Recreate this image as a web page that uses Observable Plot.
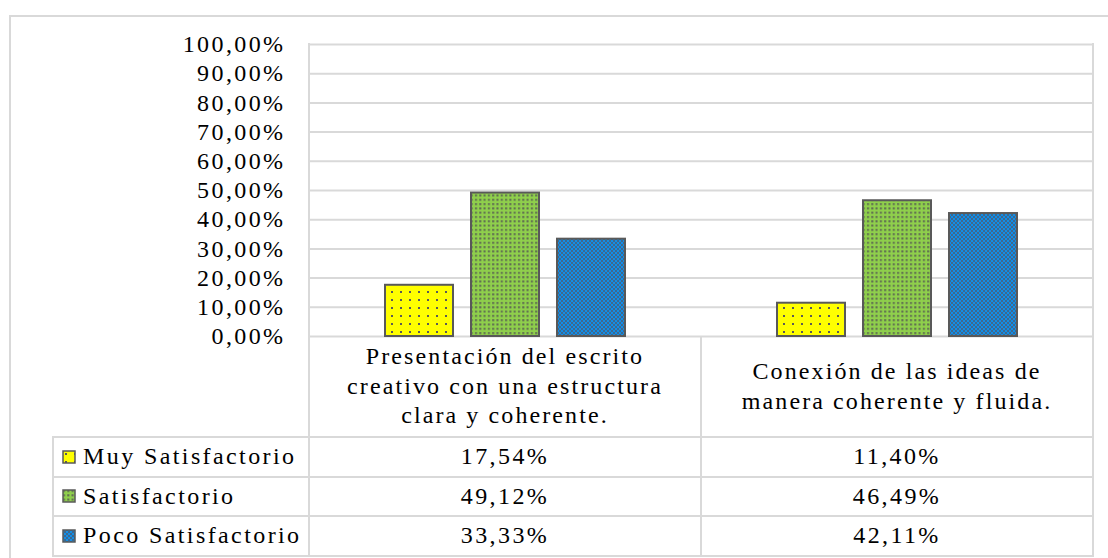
<!DOCTYPE html>
<html>
<head>
<meta charset="utf-8">
<script src="https://cdn.jsdelivr.net/npm/d3@7"></script>
<script src="https://cdn.jsdelivr.net/npm/@observablehq/plot@0.6"></script>
<style>
  body { margin: 0; background: #fff; }
  #wrap { position: relative; width: 1108px; height: 558px; overflow: hidden; background: #fff;
          font-family: "Liberation Serif", "Times New Roman", serif; color: #000; }
  #wrap svg text { letter-spacing: 2.4px; }
  .outer { position: absolute; left: 9px; top: 15px; width: 1200px; height: 700px; border: 2px solid #d9d9d9; box-sizing: border-box; }
  .plotbox { position: absolute; left: 0; top: 0; }
  .ln { position: absolute; background: #d9d9d9; }
  .cell { position: absolute; display: flex; align-items: center; justify-content: center; text-align: center;
          font-size: 24px; letter-spacing: 2.4px; white-space: nowrap; }
  .hdr { line-height: 29.5px; flex-direction: column; letter-spacing: 2.1px; }
  .leg { justify-content: flex-start; }
  .leg svg { margin-left: 9px; margin-right: 7px; flex: none; }
</style>
</head>
<body>
<svg width="0" height="0" style="position:absolute">
  <defs>
    <pattern id="pY" width="9" height="8" patternUnits="userSpaceOnUse">
      <rect width="9" height="8" fill="#ffff00"/>
      <rect x="3" y="3" width="2" height="2" fill="#595959"/>
    </pattern>
    <pattern id="pG" width="4.3" height="4.3" patternUnits="userSpaceOnUse">
      <rect width="4.3" height="4.3" fill="#8fcf4c"/>
      <rect x="1" y="1" width="2" height="2" fill="#5e6a52"/>
    </pattern>
    <pattern id="pB" width="4" height="4" patternUnits="userSpaceOnUse">
      <rect width="4" height="4" fill="#128ee6"/>
      <rect width="2" height="2" fill="#3c6890"/>
      <rect x="2" y="2" width="2" height="2" fill="#3c6890"/>
    </pattern>
  </defs>
</svg>
<div id="wrap"></div>
<script>
// ---- data ----
const categories = [
  "Presentación del escrito creativo con una estructura clara y coherente.",
  "Conexión de las ideas de manera coherente y fluida."
];
const categoryLines = [
  ["Presentación del escrito", "creativo con una estructura", "clara y coherente."],
  ["Conexión de las ideas de", "manera coherente y fluida."]
];
const series = ["Muy Satisfactorio", "Satisfactorio", "Poco Satisfactorio"];
const muySatisfactorio = [0.1754, 0.1140];
const satisfactorio = [0.4912, 0.4649];
const pocoSatisfactorio = [0.3333, 0.4211];
const seriesValues = [muySatisfactorio, satisfactorio, pocoSatisfactorio];
const seriesFills = ["url(#pY)", "url(#pG)", "url(#pB)"];
const yTicks = [0, 0.1, 0.2, 0.3, 0.4, 0.5, 0.6, 0.7, 0.8, 0.9, 1.0];

(function () {
const fmt = d => (d * 100).toFixed(2).replace(".", ",") + "%";

const rows = categories.flatMap((c, i) =>
  series.map((s, j) => ({category: c, series: s, value: seriesValues[j][i]})));

const W = 1108, mL = 308, mR = 15, mT = 44, H = 350, mB = 14;

const plot = Plot.plot({
  width: W, height: H,
  marginLeft: mL, marginRight: mR, marginTop: mT, marginBottom: mB,
  style: {fontFamily: "'Liberation Serif', 'Times New Roman', serif", fontSize: "24px", color: "#000", background: "transparent", overflow: "visible"},
  facet: {data: rows, x: "category"},
  fx: {domain: categories, padding: 0, axis: null, label: null},
  x: {domain: series, axis: null, paddingInner: 0.207, paddingOuter: 0.86},
  y: {domain: [0, 1], ticks: yTicks, tickFormat: fmt, tickSize: 0, tickPadding: 24, label: null},
  color: {domain: series, range: seriesFills},
  marks: [
    Plot.ruleY(yTicks, {stroke: "#d9d9d9", strokeWidth: 2, strokeOpacity: 1}),
    Plot.barY(rows, {x: "series", y: "value", fill: "series", stroke: "#595959", strokeWidth: 2})
  ]
});

const wrap = document.getElementById("wrap");
const outer = document.createElement("div");
outer.className = "outer";
wrap.appendChild(outer);
const pb = document.createElement("div");
pb.className = "plotbox";
pb.appendChild(plot);
wrap.appendChild(pb);

// table geometry from the scales
const fxs = plot.scale("fx");
const ys = plot.scale("y");
const colX = categories.map(c => fxs.apply(c));
const bw = fxs.bandwidth;
const xLeft = colX[0], xRight = colX[colX.length - 1] + bw;
const yTop = ys.apply(1), yBase = ys.apply(0);
const legLeft = 53;
const hdrH = 101, rowH = 39.5;
const tableBottom = yBase + hdrH + series.length * rowH;

function line(x, y, w, h) {
  const d = document.createElement("div");
  d.className = "ln";
  Object.assign(d.style, {left: x + "px", top: y + "px", width: w + "px", height: h + "px"});
  wrap.appendChild(d);
}
function cell(x, y, w, h, cls) {
  const d = document.createElement("div");
  d.className = "cell " + (cls || "");
  Object.assign(d.style, {left: x + "px", top: y + "px", width: w + "px", height: h + "px"});
  wrap.appendChild(d);
  return d;
}

categories.forEach((c, i) => {
  const d = cell(colX[i], yBase, bw, hdrH, "hdr");
  categoryLines[i].forEach(t => {
    const s = document.createElement("div");
    s.textContent = t;
    d.appendChild(s);
  });
});
series.forEach((s, j) => {
  const y0 = yBase + hdrH + j * rowH;
  const lg = cell(legLeft, y0, xLeft - legLeft, rowH, "leg");
  const sw = document.createElementNS("http://www.w3.org/2000/svg", "svg");
  sw.setAttribute("width", 14); sw.setAttribute("height", 14);
  sw.innerHTML = `<rect x="1" y="1" width="12" height="12" fill="${seriesFills[j]}" stroke="#595959" stroke-width="1.5"/>`;
  lg.appendChild(sw);
  const tx = document.createElement("span");
  tx.textContent = s;
  lg.appendChild(tx);
  categories.forEach((c, i) => {
    const d = cell(colX[i], y0, bw, rowH);
    d.textContent = fmt(seriesValues[j][i]);
  });
});

const lw = 2;
line(xLeft - 1, yTop - 1, lw, tableBottom - yTop + 2);
line(xRight - 1, yTop - 1, lw, tableBottom - yTop + 2);
for (let i = 1; i < colX.length; i++) line(colX[i] - 1, yBase, lw, tableBottom - yBase + 1);
for (let j = 0; j <= series.length; j++) {
  const y = yBase + hdrH + j * rowH;
  line(legLeft - 1, y - 1, xRight - legLeft + 2, lw);
}
line(legLeft - 1, yBase + hdrH - 1, lw, series.length * rowH + 2);
})();
</script>
</body>
</html>
